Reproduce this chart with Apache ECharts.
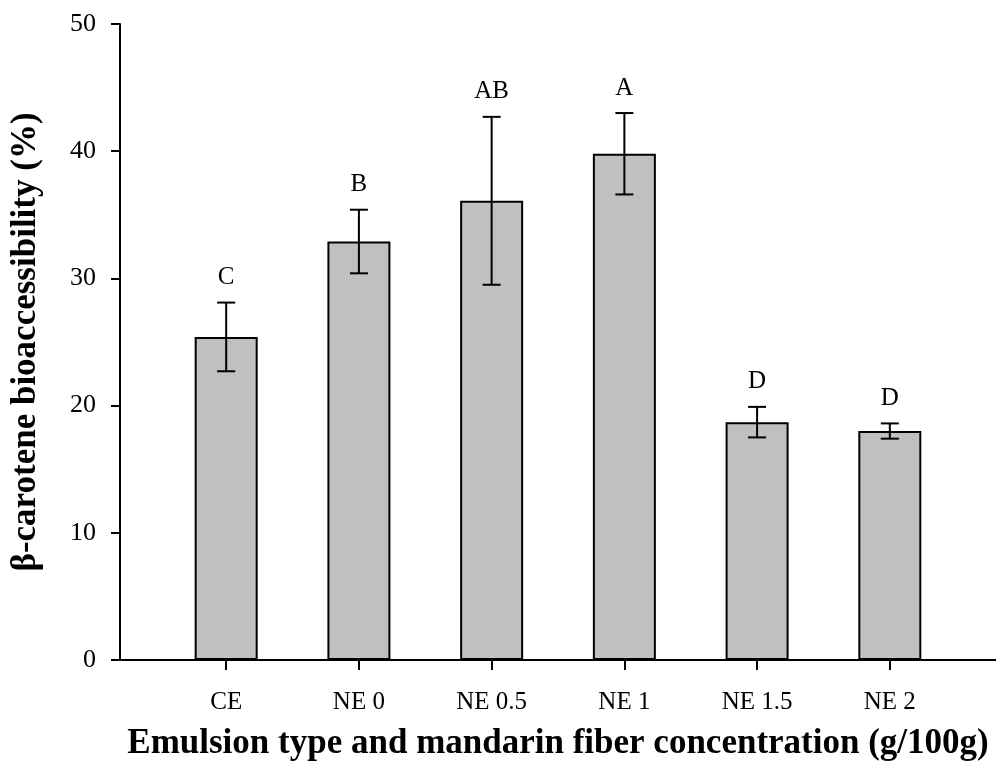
<!DOCTYPE html>
<html>
<head>
<meta charset="utf-8">
<script src="https://cdn.jsdelivr.net/npm/echarts@6/dist/echarts.min.js"></script>
<style>
  html, body { margin: 0; padding: 0; background: #fff; }
  #chart { width: 996px; height: 778px; }
</style>
</head>
<body>
<div id="chart"></div>
<script>
// Emulsion groups along the x axis
const categories = ['CE', 'NE 0', 'NE 0.5', 'NE 1', 'NE 1.5', 'NE 2'];
// Mean β-carotene bioaccessibility (%)
const means = [25.4, 32.9, 36.1, 39.8, 18.7, 18.0];
// Standard deviations (error bar half-lengths)
const errors = [2.7, 2.5, 6.6, 3.2, 1.2, 0.6];
// Significance letters above each bar
const letters = ['C', 'B', 'AB', 'A', 'D', 'D'];
// y-axis ticks
const yTicks = [0, 10, 20, 30, 40, 50];

const positions = categories.map((_, i) => i + 1);
const FONT = '"Liberation Serif", "Times New Roman", serif';

const chart = echarts.init(document.getElementById('chart'), null, { renderer: 'canvas' });

chart.setOption({
  animation: false,
  backgroundColor: '#ffffff',
  grid: { left: 120, right: -12, top: 24, bottom: 118, containLabel: false },
  xAxis: {
    type: 'value',
    min: 0.2,
    max: 6.8,
    name: 'Emulsion type and mandarin fiber concentration (g/100g)',
    nameLocation: 'middle',
    nameGap: 66,
    nameTextStyle: { fontFamily: FONT, fontWeight: 'bold', fontSize: 35, color: '#000' },
    axisLine: { show: true, lineStyle: { color: '#000', width: 2 } },
    axisTick: { show: true, customValues: positions, length: 10, inside: false, lineStyle: { color: '#000', width: 2 } },
    axisLabel: {
      customValues: positions,
      margin: 30,
      fontFamily: FONT, fontSize: 25, color: '#000',
      formatter: v => categories[Math.round(v) - 1] || ''
    },
    splitLine: { show: false }
  },
  yAxis: {
    type: 'value',
    min: yTicks[0],
    max: yTicks[yTicks.length - 1],
    interval: 10,
    name: 'β-carotene bioaccessibility (%)',
    nameLocation: 'middle',
    nameGap: 77,
    nameTextStyle: { fontFamily: FONT, fontWeight: 'bold', fontSize: 35, color: '#000' },
    axisLine: { show: true, lineStyle: { color: '#000', width: 2 } },
    axisTick: { show: true, length: 9, inside: false, lineStyle: { color: '#000', width: 2 } },
    axisLabel: { margin: 24, fontFamily: FONT, fontSize: 26, color: '#000' },
    splitLine: { show: false }
  },
  series: [
    {
      type: 'bar',
      data: positions.map((x, i) => [x, means[i]]),
      barWidth: 63,
      itemStyle: { color: '#c0c0c0', borderColor: '#000', borderWidth: 2 },
      z: 2
    },
    {
      // error bars and significance letters
      type: 'custom',
      data: positions.map((x, i) => [x, means[i] - errors[i], means[i] + errors[i], i]),
      z: 3,
      renderItem: (params, api) => {
        const x = api.value(0);
        const lo = api.coord([x, api.value(1)]);
        const hi = api.coord([x, api.value(2)]);
        const idx = api.value(3);
        const cap = 9;
        const style = { stroke: '#000', lineWidth: 2 };
        return {
          type: 'group',
          children: [
            { type: 'line', shape: { x1: lo[0], y1: lo[1], x2: hi[0], y2: hi[1] }, style },
            { type: 'line', shape: { x1: hi[0] - cap, y1: hi[1], x2: hi[0] + cap, y2: hi[1] }, style },
            { type: 'line', shape: { x1: lo[0] - cap, y1: lo[1], x2: lo[0] + cap, y2: lo[1] }, style },
            {
              type: 'text',
              x: hi[0], y: hi[1] - 25,
              style: {
                text: letters[idx],
                fill: '#000',
                font: '25px ' + FONT,
                textAlign: 'center',
                textVerticalAlign: 'middle'
              }
            }
          ]
        };
      }
    }
  ]
});
</script>
</body>
</html>
